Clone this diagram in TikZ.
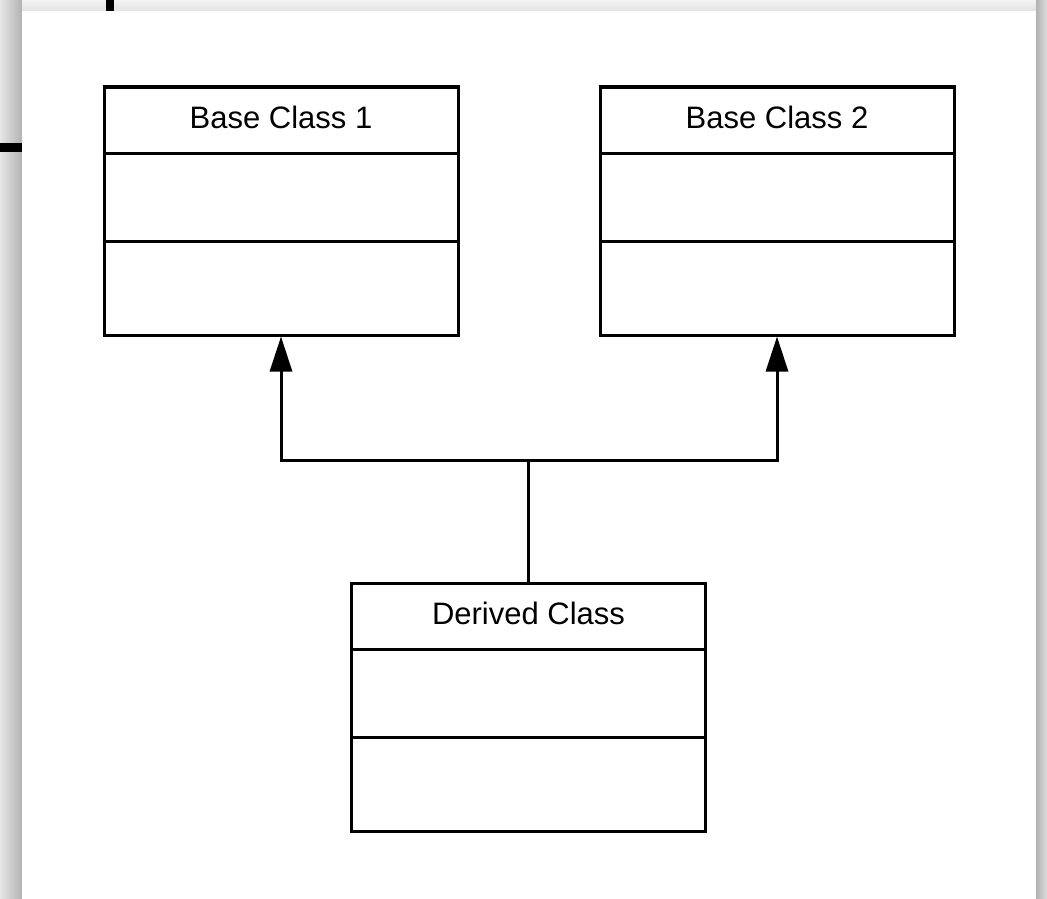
\documentclass[tikz,border=0pt]{standalone}
\usepackage{fontspec}
\setmainfont{Liberation Sans}
\usetikzlibrary{arrows.meta,calc}
\definecolor{edgedark}{HTML}{B2B2B2}
\definecolor{edgelight}{HTML}{E6E6E6}
\definecolor{toplight}{HTML}{F3F3F3}
\definecolor{topdark}{HTML}{E2E2E2}
\tikzset{
  classbox/.style={draw=black, line width=3pt, fill=white, minimum width=354pt, minimum height=248pt, inner sep=0pt},
  divider/.style={line width=3pt},
  title/.style={font=\fontsize{31}{37}\selectfont, inner sep=0pt, anchor=center},
  link/.style={line width=3pt},
  inherit/.style={line width=3pt, -{Triangle[length=35pt, width=22pt]}},
  mark/.style={fill=black},
}
\begin{document}
\begin{tikzpicture}[x=1pt, y=-1pt]
  \useasboundingbox (0,0) rectangle (1047,899);
  % page backdrop and panel shadow
  \fill[toplight] (0,0) rectangle (1047,899);
  \shade[left color=edgelight, right color=edgedark] (0,0) rectangle (22,899);
  \shade[top color=toplight, bottom color=topdark] (22,0) rectangle (1036,11);
  \shade[left color=edgedark, right color=edgelight!85!edgedark] (1036,0) rectangle (1047,899);
  \fill[white] (22,11) rectangle (1036,899);
  % ruler ticks at the edges
  \fill[black] (106,0) rectangle (114,11);
  \fill[black] (0,143) rectangle (22,152);

  % classes
  \node[classbox] (b1) at (281,211) {};
  \node[classbox] (b2) at (777,211) {};
  \node[classbox] (d) at (528.5,707) {};

  \foreach \c/\t in {b1/Base Class 1, b2/Base Class 2, d/Derived Class} {
    \draw[divider] ($(\c.north west)+(0,68)$) -- ($(\c.north east)+(0,68)$);
    \draw[divider] ($(\c.north west)+(0,156)$) -- ($(\c.north east)+(0,156)$);
    \node[title] (\c-title) at ($(\c.north)+(0,32)$) {\t};
  }

  % inheritance connectors
  \coordinate (j) at (528.5,460);
  \draw[link] (d.north) -- (j);
  \draw[inherit] (j) -| (b1.south);
  \draw[inherit] (j) -| (b2.south);
\end{tikzpicture}
\end{document}
